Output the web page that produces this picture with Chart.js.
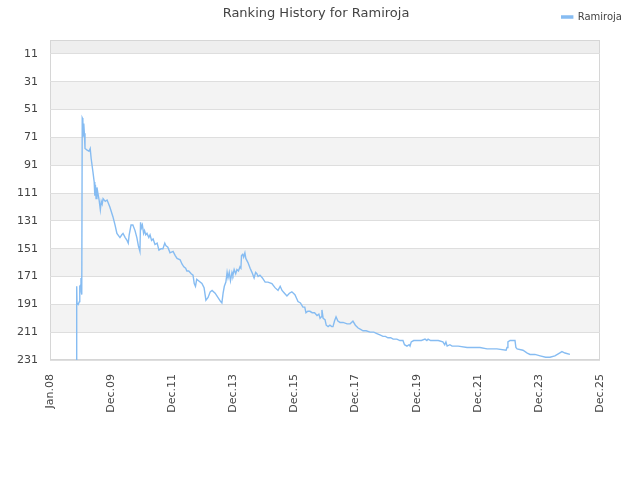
<!DOCTYPE html>
<html>
<head>
<meta charset="utf-8">
<title>Ranking History for Ramiroja</title>
<script src="https://cdn.jsdelivr.net/npm/chart.js@4/dist/chart.umd.min.js"></script>
<style>
    html, body { margin: 0; padding: 0; background: #fff; }
    #wrap { width: 640px; height: 480px; }
</style>
</head>
<body>
<div id="wrap"><canvas id="rankChart" width="640" height="480"></canvas></div>
<script>
// decimal years and the rank reached at that moment
const dates = [
    2008.87, 2008.87, 2008.88, 2008.92, 2008.96, 2008.97, 2009.00, 2009.01, 2009.02, 2009.03,
    2009.04, 2009.05, 2009.07, 2009.08, 2009.10, 2009.12, 2009.14, 2009.20, 2009.27, 2009.31,
    2009.34, 2009.40, 2009.44, 2009.46, 2009.48, 2009.50, 2009.53, 2009.56, 2009.60, 2009.64,
    2009.67, 2009.70, 2009.73, 2009.80, 2009.86, 2009.95, 2010.05, 2010.12, 2010.18, 2010.28,
    2010.34, 2010.38, 2010.45, 2010.51, 2010.55, 2010.58, 2010.64, 2010.70, 2010.77, 2010.83,
    2010.88, 2010.93, 2010.95, 2010.98, 2011.01, 2011.05, 2011.08, 2011.12, 2011.16, 2011.22,
    2011.26, 2011.31, 2011.36, 2011.42, 2011.49, 2011.55, 2011.62, 2011.68, 2011.74, 2011.78,
    2011.84, 2011.91, 2012.01, 2012.08, 2012.14, 2012.24, 2012.30, 2012.36, 2012.42, 2012.46,
    2012.52, 2012.60, 2012.66, 2012.70, 2012.74, 2012.78, 2012.84, 2012.95, 2013.02, 2013.08,
    2013.15, 2013.22, 2013.28, 2013.38, 2013.47, 2013.56, 2013.60, 2013.64, 2013.68, 2013.73,
    2013.77, 2013.80, 2013.84, 2013.88, 2013.93, 2013.96, 2014.00, 2014.05, 2014.09, 2014.14,
    2014.19, 2014.22, 2014.24, 2014.28, 2014.31, 2014.35, 2014.38, 2014.45, 2014.52, 2014.58,
    2014.65, 2014.70, 2014.74, 2014.78, 2014.84, 2014.92, 2015.01, 2015.10, 2015.23, 2015.33,
    2015.43, 2015.50, 2015.56, 2015.64, 2015.72, 2015.80, 2015.88, 2015.98, 2016.04, 2016.08,
    2016.16, 2016.24, 2016.30, 2016.34, 2016.40, 2016.47, 2016.54, 2016.62, 2016.70, 2016.76,
    2016.80, 2016.84, 2016.86, 2016.90, 2016.96, 2017.00, 2017.06, 2017.12, 2017.18, 2017.22,
    2017.27, 2017.32, 2017.38, 2017.45, 2017.55, 2017.68, 2017.78, 2017.87, 2017.95, 2018.04,
    2018.12, 2018.20, 2018.30, 2018.43, 2018.55, 2018.65, 2018.75, 2018.85, 2018.93, 2019.01,
    2019.10, 2019.18, 2019.30, 2019.40, 2019.50, 2019.55, 2019.63, 2019.70, 2019.73, 2019.77,
    2019.85, 2019.96, 2020.10, 2020.22, 2020.28, 2020.32, 2020.40, 2020.48, 2020.65, 2020.80,
    2020.86, 2020.90, 2020.94, 2021.03, 2021.10, 2021.30, 2021.59, 2022.01, 2022.24, 2022.56,
    2022.86, 2022.89, 2022.92, 2022.99, 2023.15, 2023.18, 2023.22, 2023.41, 2023.55, 2023.64,
    2023.80, 2023.97, 2024.15, 2024.29, 2024.45, 2024.60, 2024.68, 2024.78, 2024.94
];
const ranks = [
    231, 178, 190, 191, 189, 178, 177, 172, 182, 170,
    184, 57, 58, 70, 61, 68, 79, 80, 81, 79,
    86, 96, 103, 113, 105, 115, 107, 111, 116, 123,
    117, 119, 115, 117, 116, 121, 128, 134, 140, 143,
    141, 140, 143, 145, 147, 141, 134, 134, 138, 143,
    149, 153, 132, 136, 134, 140, 138, 141, 140, 143,
    141, 145, 144, 148, 147, 152, 151, 151, 147, 149,
    150, 154, 153, 156, 158, 159, 162, 164, 165, 167,
    167, 169, 170, 176, 178, 173, 174, 176, 179, 188,
    186, 182, 181, 183, 186, 189, 190, 183, 178, 175,
    168, 172, 168, 174, 168, 170, 166, 169, 166, 167,
    164, 165, 156, 155, 157, 154, 158, 161, 165, 168,
    172, 168, 169, 171, 170, 172, 175, 175, 176, 179,
    181, 178, 181, 183, 185, 183, 182, 184, 187, 189,
    190, 193, 193, 197, 196, 196, 197, 197, 199, 198,
    201, 200, 195, 201, 202, 206, 207, 206, 207, 207,
    203, 200, 203, 204, 204, 205, 205, 203, 206, 208,
    209, 210, 210, 211, 211, 212, 213, 214, 214, 215,
    215, 216, 216, 217, 217, 220, 221, 220, 221, 218,
    217, 217, 217, 216, 217, 216, 217, 217, 217, 218,
    220, 218, 221, 220, 221, 221, 222, 222, 223, 223,
    224, 222, 218, 217, 217, 222, 223, 224, 226, 227,
    227, 228, 229, 229, 228, 226, 225, 226, 227
];
const playerName = "Ramiroja";
const yTicks = [11, 31, 51, 71, 91, 111, 131, 151, 171, 191, 211, 231];
const tickLabels = ["Jan.08", "Dec.09", "Dec.11", "Dec.13", "Dec.15", "Dec.17", "Dec.19", "Dec.21", "Dec.23", "Dec.25"];
const xMin = 2008.0;
const xMax = 2025.92;
const yMin = 1;
const yMax = 231;

const lineColor = "#86bcf2";
const textColor = "#444";
const fontFamily = "'DejaVu Sans', sans-serif";

// grey bands behind the plot, every other tick interval
const bandsPlugin = {
    id: "bands",
    beforeDraw(chart) {
        const { ctx, chartArea } = chart;
        const y = chart.scales.y;
        ctx.save();
        ctx.fillStyle = "#eeeeee";
        let top = y.getPixelForValue(yMin);
        let bottom = y.getPixelForValue(yTicks[0]);
        ctx.fillRect(chartArea.left, top, chartArea.width, bottom - top);
        ctx.fillStyle = "#f3f3f3";
        for (let i = 1; i < yTicks.length - 1; i += 2) {
            top = y.getPixelForValue(yTicks[i]);
            bottom = y.getPixelForValue(yTicks[i + 1]);
            ctx.fillRect(chartArea.left, top, chartArea.width, bottom - top);
        }
        ctx.strokeStyle = "#d6d6d6";
        ctx.lineWidth = 1;
        ctx.strokeRect(chartArea.left + 0.5, chartArea.top + 0.5, chartArea.width - 1, chartArea.height - 1);
        ctx.restore();
    },
};

const points = dates.map((d, i) => ({ x: d, y: ranks[i] }));

// empty boxes that only reserve room around the plot
const spacer = (side, size) => ({
    type: "linear",
    position: side,
    display: true,
    afterFit: (scale) => {
        if (side === "top") scale.height = size;
        else scale.width = size;
    },
    ticks: { display: false },
    grid: { display: false },
    border: { display: false },
});

new Chart(document.getElementById("rankChart"), {
    type: "line",
    data: {
        datasets: [
            {
                label: playerName,
                data: points,
                borderColor: lineColor,
                backgroundColor: lineColor,
                borderWidth: 1.4,
                pointRadius: 0,
                tension: 0,
                fill: false,
            },
        ],
    },
    options: {
        responsive: false,
        animation: false,
        events: [],
        layout: {
            padding: { top: 2, right: 8, bottom: 0, left: 0 },
        },
        plugins: {
            title: {
                display: true,
                text: "Ranking History for " + playerName,
                color: textColor,
                font: { family: fontFamily, size: 13, weight: "normal" },
                padding: { top: 4, bottom: -19.6 },
            },
            legend: {
                display: true,
                position: "top",
                align: "end",
                labels: {
                    color: textColor,
                    font: { family: fontFamily, size: 10 },
                    boxWidth: 11,
                    boxHeight: 2,
                    padding: 10,
                },
            },
            tooltip: { enabled: false },
        },
        scales: {
            x: {
                type: "linear",
                min: xMin,
                max: xMax,
                afterBuildTicks: (scale) => {
                    scale.ticks = tickLabels.map((_, i) => ({
                        value: xMin + (i * (xMax - xMin)) / (tickLabels.length - 1),
                    }));
                },
                afterFit: (scale) => {
                    scale.height = 120;
                },
                ticks: {
                    autoSkip: false,
                    minRotation: 90,
                    maxRotation: 90,
                    padding: 6,
                    color: textColor,
                    font: { family: fontFamily, size: 11 },
                    callback: (value, index) => tickLabels[index],
                },
                grid: { display: false },
                border: { display: false },
            },
            y: {
                type: "linear",
                reverse: true,
                min: yMin,
                max: yMax,
                afterBuildTicks: (scale) => {
                    scale.ticks = yTicks.map((v) => ({ value: v }));
                },
                afterFit: (scale) => {
                    scale.width = 50;
                },
                ticks: {
                    autoSkip: false,
                    padding: 12,
                    color: textColor,
                    font: { family: fontFamily, size: 11 },
                },
                grid: { color: "#dedede", drawTicks: false },
                border: { display: false },
            },
            yRight: spacer("right", 32),
            xTop: spacer("top", 8),
        },
    },
    plugins: [bandsPlugin],
});
</script>
</body>
</html>
